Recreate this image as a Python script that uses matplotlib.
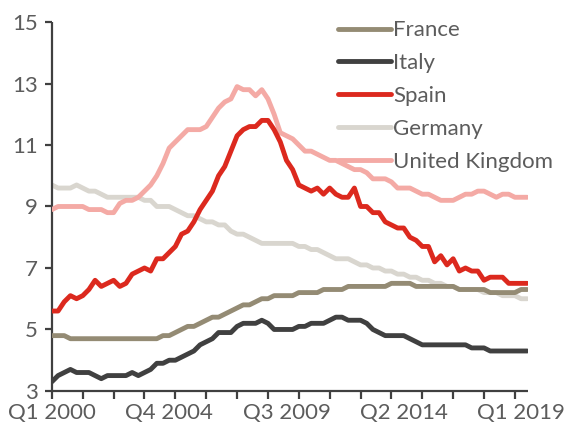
import matplotlib
matplotlib.use("Agg")
import matplotlib.pyplot as plt
from matplotlib import font_manager

# ---- data ----
quarters = [f"Q{q} {y}" for y in range(2000, 2020) for q in range(1, 5)][:78]

france = [4.8, 4.8, 4.8, 4.7, 4.7, 4.7, 4.7, 4.7, 4.7, 4.7,
          4.7, 4.7, 4.7, 4.7, 4.7, 4.7, 4.7, 4.7, 4.8, 4.8,
          4.9, 5.0, 5.1, 5.1, 5.2, 5.3, 5.4, 5.4, 5.5, 5.6,
          5.7, 5.8, 5.8, 5.9, 6.0, 6.0, 6.1, 6.1, 6.1, 6.1,
          6.2, 6.2, 6.2, 6.2, 6.3, 6.3, 6.3, 6.3, 6.4, 6.4,
          6.4, 6.4, 6.4, 6.4, 6.4, 6.5, 6.5, 6.5, 6.5, 6.4,
          6.4, 6.4, 6.4, 6.4, 6.4, 6.4, 6.3, 6.3, 6.3, 6.3,
          6.3, 6.2, 6.2, 6.2, 6.2, 6.2, 6.3, 6.3]

italy = [3.3, 3.5, 3.6, 3.7, 3.6, 3.6, 3.6, 3.5, 3.4, 3.5,
         3.5, 3.5, 3.5, 3.6, 3.5, 3.6, 3.7, 3.9, 3.9, 4.0,
         4.0, 4.1, 4.2, 4.3, 4.5, 4.6, 4.7, 4.9, 4.9, 4.9,
         5.1, 5.2, 5.2, 5.2, 5.3, 5.2, 5.0, 5.0, 5.0, 5.0,
         5.1, 5.1, 5.2, 5.2, 5.2, 5.3, 5.4, 5.4, 5.3, 5.3,
         5.3, 5.2, 5.0, 4.9, 4.8, 4.8, 4.8, 4.8, 4.7, 4.6,
         4.5, 4.5, 4.5, 4.5, 4.5, 4.5, 4.5, 4.5, 4.4, 4.4,
         4.4, 4.3, 4.3, 4.3, 4.3, 4.3, 4.3, 4.3]

spain = [5.6, 5.6, 5.9, 6.1, 6.0, 6.1, 6.3, 6.6, 6.4, 6.5,
         6.6, 6.4, 6.5, 6.8, 6.9, 7.0, 6.9, 7.3, 7.3, 7.5,
         7.7, 8.1, 8.2, 8.5, 8.9, 9.2, 9.5, 10.0, 10.3, 10.8,
         11.3, 11.5, 11.6, 11.6, 11.8, 11.8, 11.5, 11.1, 10.5, 10.2,
         9.7, 9.6, 9.5, 9.6, 9.4, 9.6, 9.4, 9.3, 9.3, 9.6,
         9.0, 9.0, 8.8, 8.8, 8.5, 8.4, 8.3, 8.3, 8.0, 7.9,
         7.7, 7.7, 7.2, 7.4, 7.1, 7.3, 6.9, 7.0, 6.9, 6.9,
         6.6, 6.7, 6.7, 6.7, 6.5, 6.5, 6.5, 6.5]

germany = [9.7, 9.6, 9.6, 9.6, 9.7, 9.6, 9.5, 9.5, 9.4, 9.3,
           9.3, 9.3, 9.3, 9.3, 9.3, 9.2, 9.2, 9.0, 9.0, 9.0,
           8.9, 8.8, 8.7, 8.7, 8.6, 8.5, 8.5, 8.4, 8.4, 8.2,
           8.1, 8.1, 8.0, 7.9, 7.8, 7.8, 7.8, 7.8, 7.8, 7.8,
           7.7, 7.7, 7.6, 7.6, 7.5, 7.4, 7.3, 7.3, 7.3, 7.2,
           7.1, 7.1, 7.0, 7.0, 6.9, 6.9, 6.8, 6.8, 6.7, 6.7,
           6.6, 6.6, 6.5, 6.5, 6.4, 6.4, 6.3, 6.3, 6.3, 6.3,
           6.2, 6.2, 6.2, 6.1, 6.1, 6.1, 6.0, 6.0]

uk = [8.9, 9.0, 9.0, 9.0, 9.0, 9.0, 8.9, 8.9, 8.9, 8.8,
      8.8, 9.1, 9.2, 9.2, 9.3, 9.5, 9.7, 10.0, 10.4, 10.9,
      11.1, 11.3, 11.5, 11.5, 11.5, 11.6, 11.9, 12.2, 12.4, 12.5,
      12.9, 12.8, 12.8, 12.6, 12.8, 12.5, 12.0, 11.4, 11.3, 11.2,
      11.0, 10.8, 10.8, 10.7, 10.6, 10.5, 10.5, 10.4, 10.3, 10.2,
      10.2, 10.1, 9.9, 9.9, 9.9, 9.8, 9.6, 9.6, 9.6, 9.5,
      9.4, 9.4, 9.3, 9.2, 9.2, 9.2, 9.3, 9.4, 9.4, 9.5,
      9.5, 9.4, 9.3, 9.4, 9.4, 9.3, 9.3, 9.3]

series_names = ["France", "Italy", "Spain", "Germany", "United Kingdom"]
series_values = [france, italy, spain, germany, uk]
series_colors = ["#948b74", "#404040", "#dc291e", "#d9d6cf", "#f4aaa5"]
draw_order = [3, 4, 0, 1, 2]  # z-order: Germany, UK, France, Italy, Spain

y_ticks = [3, 5, 7, 9, 11, 13, 15]
x_label_positions = [0, 19, 38, 57, 76]
x_tick_positions = list(range(0, 78, 5))

# ---- style ----
names = {f.name for f in font_manager.fontManager.ttflist}
family = "Lato" if "Lato" in names else "DejaVu Sans"
plt.rcParams["font.family"] = [family, "DejaVu Sans"]
text_color = "#5c5c5c"
axis_color = "#404040"
fs = 16

fig = plt.figure(figsize=(5.64, 4.32), dpi=100)
ax = fig.add_axes([0.092, 0.095, 0.845, 0.854])

x = list(range(len(quarters)))
lines = {}
for z, idx in enumerate(draw_order):
    ln, = ax.plot(x, series_values[idx], color=series_colors[idx], lw=3.5,
                  solid_joinstyle="round", solid_capstyle="round",
                  zorder=2 + z, label=series_names[idx])
    lines[idx] = ln

ax.set_xlim(0, 77.2)
ax.set_ylim(3, 15)

for s in ["top", "right"]:
    ax.spines[s].set_visible(False)
for s in ["left", "bottom"]:
    ax.spines[s].set_color(axis_color)
    ax.spines[s].set_linewidth(1.6)
    ax.spines[s].set_capstyle("butt")

ax.set_yticks(y_ticks)
ax.set_yticklabels([str(v) for v in y_ticks])
ax.tick_params(axis="y", length=5, width=1.6, color=axis_color,
               labelsize=fs, labelcolor=text_color, pad=5)

ax.xaxis.remove_overlapping_locs = False
ax.set_xticks(x_label_positions)
ax.set_xticklabels([quarters[i] for i in x_label_positions])
ax.set_xticks(x_tick_positions, minor=True)
ax.tick_params(axis="x", which="minor", length=6, width=1.6, color=axis_color)
ax.tick_params(axis="x", which="major", length=0, labelsize=fs,
               labelcolor=text_color, pad=9)

handles = [lines[i] for i in range(5)]
leg = ax.legend(handles, series_names, loc="upper left",
                bbox_to_anchor=(0.600, 0.953), bbox_transform=fig.transFigure,
                frameon=False, fontsize=fs, handlelength=2.35,
                handletextpad=0.12, labelspacing=0.58, borderpad=0,
                borderaxespad=0)
for t in leg.get_texts():
    t.set_color(text_color)
for h in leg.get_lines():
    h.set_linewidth(3.5)
    h.set_solid_capstyle("round")

fig.savefig("out.png", dpi=100)
